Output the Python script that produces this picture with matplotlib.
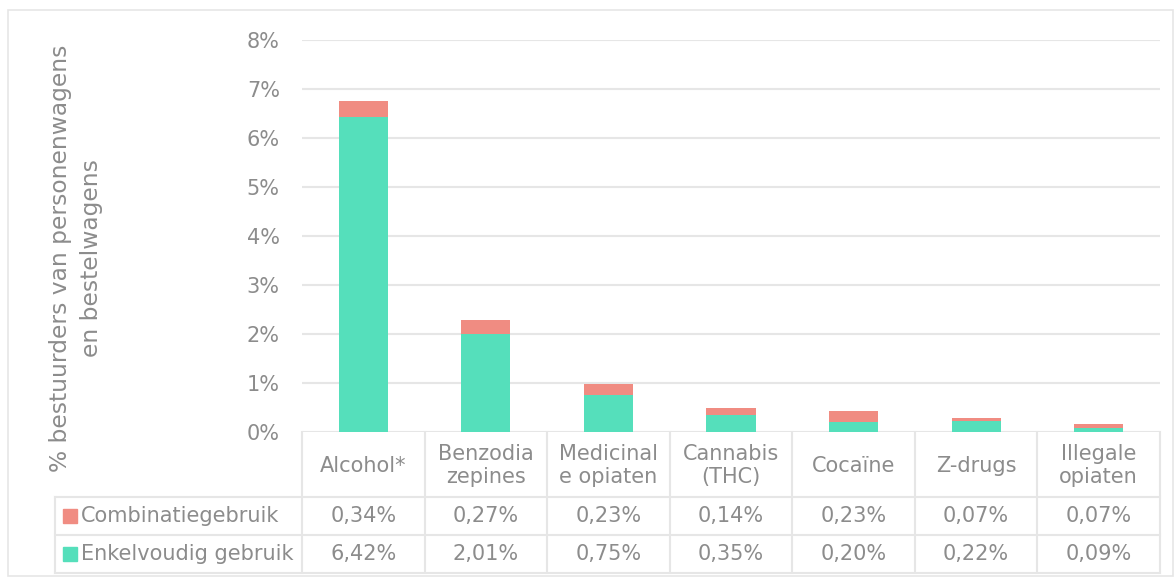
import matplotlib
matplotlib.use("Agg")
import matplotlib.pyplot as plt
from matplotlib.patches import Rectangle

categories = ["Alcohol*", "Benzodia\nzepines", "Medicinal\ne opiaten", "Cannabis\n(THC)",
              "Cocaïne", "Z-drugs", "Illegale\nopiaten"]
series_names = ["Combinatiegebruik", "Enkelvoudig gebruik"]
combinatie = [0.34, 0.27, 0.23, 0.14, 0.23, 0.07, 0.07]
enkelvoudig = [6.42, 2.01, 0.75, 0.35, 0.20, 0.22, 0.09]
yticks = [0, 1, 2, 3, 4, 5, 6, 7, 8]
ylabel = "% bestuurders van personenwagens\nen bestelwagens"

W, H = 1175, 577
plt.rcParams['font.family'] = ['DejaVu Sans']
fig = plt.figure(figsize=(W / 100, H / 100), dpi=100)
TXT = "#8c8c8c"
GRID = "#e6e6e6"
GREEN = "#55dfbb"
RED = "#f08c82"
FS = 15

L, R, T, B = 302, 1160, 40, 432
n = len(categories)
colw = (R - L) / n

# overlay for the table and frame (pixel coordinates)
ov = fig.add_axes([0, 0, 1, 1], zorder=0)
ov.set_xlim(0, W)
ov.set_ylim(H, 0)
ov.axis('off')

ax = fig.add_axes([L / W, 1 - B / H, (R - L) / W, (B - T) / H], zorder=1)
ax.patch.set_alpha(0)
xs = list(range(n))
ax.bar(xs, enkelvoudig, width=0.4, color=GREEN, zorder=3)
ax.bar(xs, combinatie, bottom=enkelvoudig, width=0.4, color=RED, zorder=3)
ax.set_xlim(-0.5, n - 0.5)
ax.set_ylim(0, 8)
ax.set_yticks(yticks)
ax.set_yticklabels([f"{t}%" for t in yticks])
ax.tick_params(axis='y', length=0, pad=16, labelsize=FS, labelcolor=TXT)
ax.set_xticks([])
for s in ax.spines.values():
    s.set_visible(False)
ax.grid(axis='y', color=GRID, lw=1.5, zorder=0)

# outer frame
ov.add_patch(Rectangle((8, 10), 1165, 566, fill=False, ec=GRID, lw=1.2))

# table lines
rows = [432, 497, 535, 573]
TL = 55
for i in range(n + 1):
    xe = L + i * colw
    ov.plot([xe, xe], [rows[0], rows[-1]], color=GRID, lw=1.5)
ov.plot([TL, TL], [rows[1], rows[3]], color=GRID, lw=1.5)
for yy in rows[1:]:
    ov.plot([TL, R], [yy, yy], color=GRID, lw=1.5)

# header
for i, c in enumerate(categories):
    ov.text(L + (i + 0.5) * colw, (rows[0] + rows[1]) / 2 + 1, c, ha='center', va='center',
            fontsize=FS, color=TXT, linespacing=1.2)

fmt = lambda v: f"{v:.2f}%".replace('.', ',')
for r, (name, vals, col) in enumerate([(series_names[0], combinatie, RED),
                                        (series_names[1], enkelvoudig, GREEN)]):
    yc = (rows[r + 1] + rows[r + 2]) / 2
    ov.add_patch(Rectangle((63, yc - 7), 14, 14, color=col))
    ov.text(81, yc, name, ha='left', va='center', fontsize=FS, color=TXT)
    for i, v in enumerate(vals):
        ov.text(L + (i + 0.5) * colw, yc, fmt(v), ha='center', va='center', fontsize=FS, color=TXT)

ov.text(76, 258, ylabel, rotation=90, ha='center', va='center', fontsize=16.8,
        color=TXT, linespacing=1.4, multialignment='center')

fig.savefig("out.png", dpi=100)
